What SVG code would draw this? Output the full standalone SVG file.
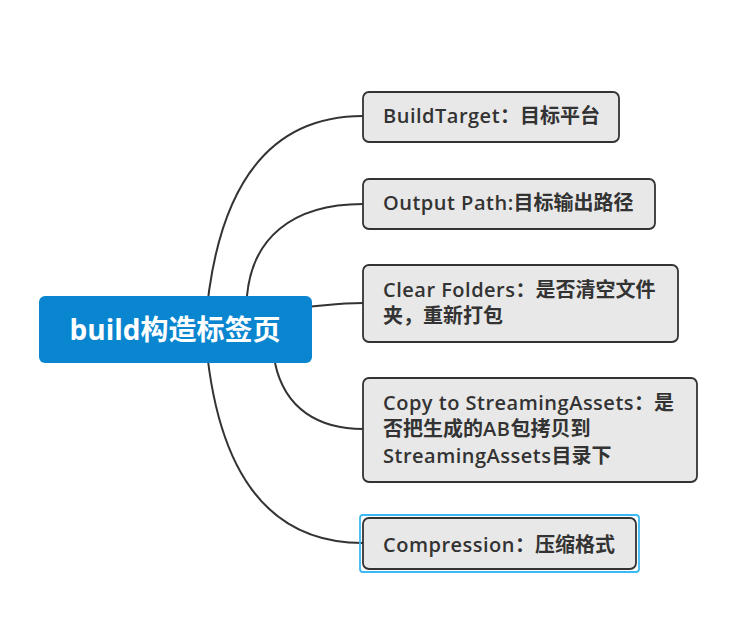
<svg xmlns="http://www.w3.org/2000/svg" width="749" height="619" viewBox="0 0 749 619">
<style>
.bg{fill:#ffffff}
.link{fill:none;stroke:#333333;stroke-width:2}
.sub rect{fill:#e8e8e8;stroke:#333333;stroke-width:1.8}
.sub text{font-family:"Open Sans","Noto Sans CJK SC",sans-serif;font-size:20px;font-weight:600;fill:#333333;letter-spacing:0.5px}
.sub text .c{font-weight:700;letter-spacing:0}
.main rect{fill:#0a86d0}
.main text{font-family:"Open Sans","Noto Sans CJK SC",sans-serif;font-size:28px;font-weight:700;fill:#ffffff}
.sub rect.sel{fill:none;stroke:#3cb8f2;stroke-width:1.8}
</style>
<rect class="bg" x="0" y="0" width="749" height="619"/>
<g id="connectors">
<path class="link" d="M205,330 Q220,116 363,116"/>
<path class="link" d="M247,296 C252,240 290,204 363,204"/>
<path class="link" d="M305,307 C330,305 340,303 363,303"/>
<path class="link" d="M275,363 C285,410 320,429 363,429"/>
<path class="link" d="M205,330 Q220,543 363,543"/>
</g>
<g id="root" class="main">
<rect x="39" y="296" width="273" height="67" rx="6"/>
<text x="175" y="340" text-anchor="middle">build构造标签页</text>
</g>
<g id="n1" class="sub">
<rect x="363" y="92" width="256" height="50" rx="6"/>
<text x="383" y="123">BuildTarget<tspan class="c">：目标平台</tspan></text>
</g>
<g id="n2" class="sub">
<rect x="363" y="179" width="292" height="50" rx="6"/>
<text x="383" y="210">Output Path:<tspan class="c">目标输出路径</tspan></text>
</g>
<g id="n3" class="sub">
<rect x="363" y="265" width="315" height="77" rx="6"/>
<text x="383" y="297">Clear Folders<tspan class="c">：是否清空文件</tspan></text>
<text x="383" y="323"><tspan class="c">夹，重新打包</tspan></text>
</g>
<g id="n4" class="sub">
<rect x="363" y="378" width="334" height="104" rx="6"/>
<text x="383" y="410">Copy to StreamingAssets<tspan class="c">：是</tspan></text>
<text x="383" y="436"><tspan class="c">否把生成的</tspan>AB<tspan class="c">包拷贝到</tspan></text>
<text x="383" y="463">StreamingAssets<tspan class="c">目录下</tspan></text>
</g>
<g id="n5" class="sub">
<rect class="sel" x="360" y="515" width="279" height="57" rx="3"/>
<rect x="363" y="518" width="273" height="51" rx="6"/>
<text x="383" y="552">Compression<tspan class="c">：压缩格式</tspan></text>
</g>
</svg>
